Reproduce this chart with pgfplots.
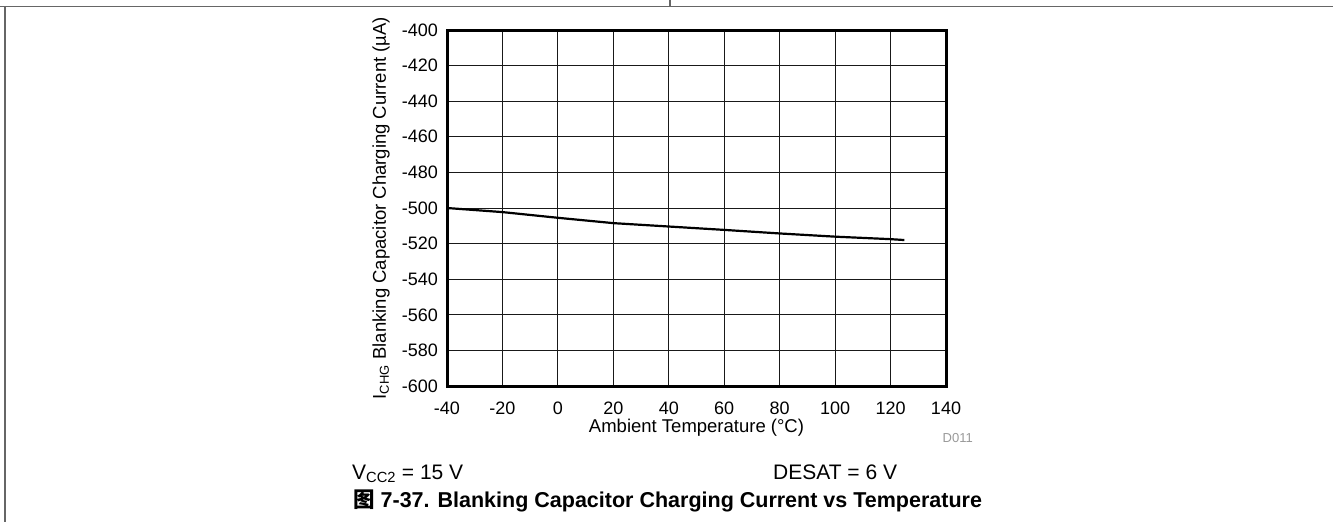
\documentclass[border=0pt]{standalone}
\usepackage{fontspec}
\setmainfont{Liberation Sans}
\newfontfamily\cjk{Noto Sans CJK SC}
\usepackage{pgfplots}
\pgfplotsset{compat=1.18}
\begin{document}
\begin{tikzpicture}[x=1pt,y=1pt]
\useasboundingbox (0,0) rectangle (1333,-522);
\draw[line width=1.5pt, black!60] (0,-6.7) -- (1333,-6.7);
\draw[line width=1.5pt, black!60] (670,0) -- (670,-6.7);
\draw[line width=1.5pt, black!60] (5,-6.7) -- (5,-522);
\begin{axis}[
  at={(447pt,-386pt)}, anchor=south west,
  scale only axis, width=499pt, height=356pt,
  xmin=-40, xmax=140, ymin=-600, ymax=-400,
  xtick={-40,-20,...,140},
  ytick={-600,-580,...,-400},
  xticklabels={-40,-20,0,20,40,60,80,100,120,140},
  yticklabels={-600,-580,-560,-540,-520,-500,-480,-460,-440,-420,-400},
  grid=major,
  major grid style={line width=0.9pt, black!90},
  axis line style={line width=3pt},
  major tick length=0pt,
  tick label style={font=\fontsize{18}{18}\selectfont, inner sep=0pt},
  xticklabel style={anchor=base, yshift=-28pt},
  yticklabel style={anchor=east, xshift=-9pt},
  xlabel={Ambient Temperature (°C)},
  xlabel style={at={(axis description cs:0.5,-0.1312)}, anchor=base, inner sep=0pt, font=\fontsize{18.5}{18.5}\selectfont},
  ylabel={I\textsubscript{CHG} Blanking Capacitor Charging Current (µA)},
  ylabel style={at={(axis description cs:-0.1323,0.5)}, anchor=center, inner sep=0pt, font=\fontsize{18.5}{18.5}\selectfont},
]
\addplot[black, line width=2.2pt, no marks] coordinates {
  (-40,-500) (-20,-502.3) (0,-505.5) (20,-508.5) (40,-510.4)
  (60,-512.3) (80,-514.3) (100,-516.1) (120,-517.5) (125,-518)
};
\end{axis}
\node[anchor=base west, inner sep=0pt, font=\fontsize{21}{21}\selectfont] at (352,-479) {V\textsubscript{CC2} = 15 V};
\node[anchor=base west, inner sep=0pt, font=\fontsize{21}{21}\selectfont] at (773,-479) {DESAT = 6 V};
\node[anchor=base east, inner sep=0pt, font=\fontsize{13}{13}\selectfont, text=black!40] at (973,-442) {D011};
\node[anchor=base west, inner sep=0pt, font=\fontsize{21.5}{21.5}\selectfont\bfseries] at (353,-507) {{\cjk 图} 7-37. Blanking Capacitor Charging Current vs Temperature};
\end{tikzpicture}
\end{document}
